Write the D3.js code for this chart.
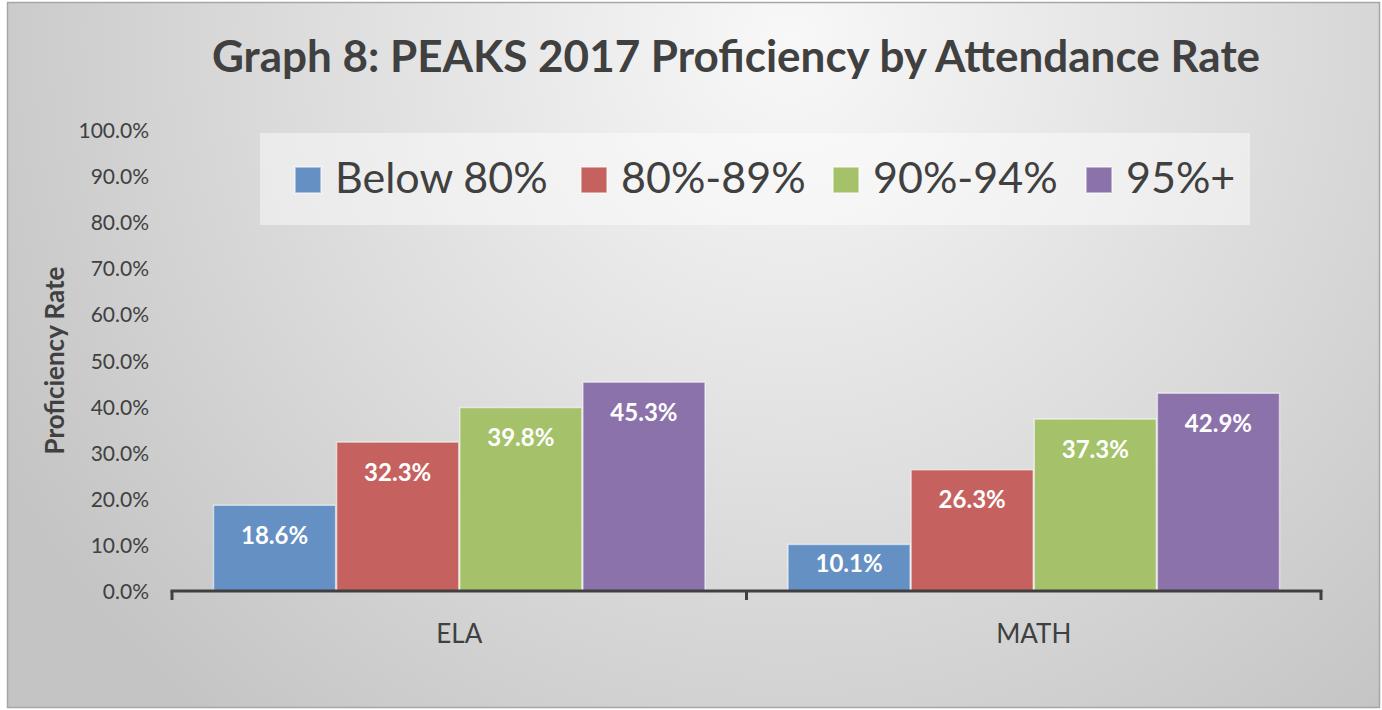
<!DOCTYPE html>
<html>
<head>
<meta charset="utf-8">
<script src="https://cdn.jsdelivr.net/npm/d3@7"></script>
<style>
  html, body { margin: 0; padding: 0; background: #ffffff; }
  svg { display: block; }
  text { font-family: Lato, "Open Sans", sans-serif; }
</style>
</head>
<body>
<svg id="chart" width="1382" height="710"></svg>
<script>
// ---- data ----
const title = "Graph 8: PEAKS 2017 Proficiency by Attendance Rate";
const categories = ["ELA", "MATH"];
const seriesNames = ["Below 80%", "80%-89%", "90%-94%", "95%+"];
const seriesColors = ["#6490C4", "#C5625F", "#A5C26B", "#8C72AB"];
const belowEighty = [18.6, 10.1];
const eightyToEightyNine = [32.3, 26.3];
const ninetyToNinetyFour = [39.8, 37.3];
const ninetyFivePlus = [45.3, 42.9];
const yTicks = [0, 10, 20, 30, 40, 50, 60, 70, 80, 90, 100];
const yAxisTitle = "Proficiency Rate";

const seriesValues = [belowEighty, eightyToEightyNine, ninetyToNinetyFour, ninetyFivePlus];

const svg = d3.select("#chart");

// background gradient
const defs = svg.append("defs");
const rg = defs.append("radialGradient").attr("id", "bg")
  .attr("gradientUnits", "userSpaceOnUse")
  .attr("cx", 790).attr("cy", 40).attr("r", 900);
rg.append("stop").attr("offset", 0).attr("stop-color", "#f8f8f8");
rg.append("stop").attr("offset", 0.55).attr("stop-color", "#dcdcdc");
rg.append("stop").attr("offset", 1).attr("stop-color", "#c4c4c4");

svg.append("rect").attr("x", 7.5).attr("y", 2.5).attr("width", 1372).attr("height", 705)
  .attr("fill", "url(#bg)").attr("stroke", "#a6a6a6").attr("stroke-width", 1.5);

// scales
const x0 = d3.scaleBand().domain(categories).range([172, 1321]).paddingInner(0).paddingOuter(0);
const x1 = d3.scaleBand().domain(seriesNames).range([41, x0.bandwidth() - 41]).padding(0);
const y = d3.scaleLinear().domain([0, 100]).range([591, 130]);

// y axis labels
const yAxis = d3.axisLeft(y).tickValues(yTicks).tickSize(0).tickPadding(0)
  .tickFormat(d => d.toFixed(1) + "%");
const gy = svg.append("g").attr("transform", "translate(149,0)").call(yAxis);
gy.select(".domain").remove();
gy.selectAll("text").attr("fill", "#404040").attr("font-size", 21).attr("font-family", "Lato, sans-serif")
  .attr("dy", "0.36em");

// y axis title
svg.append("text")
  .attr("transform", `translate(64,${(y(0) + y(100)) / 2}) rotate(-90)`)
  .attr("text-anchor", "middle")
  .attr("font-size", 26).attr("font-weight", "bold").attr("fill", "#404040")
  .text(yAxisTitle);

// bars
const groups = svg.append("g").selectAll("g").data(categories).join("g")
  .attr("transform", d => `translate(${x0(d)},0)`);

groups.each(function(cat, ci) {
  const g = d3.select(this);
  seriesNames.forEach((s, si) => {
    const v = seriesValues[si][ci];
    const h = y(0) - y(v);
    g.append("rect")
      .attr("x", x1(s) + 0.5).attr("y", y(v))
      .attr("width", x1.bandwidth() - 1).attr("height", h)
      .attr("fill", seriesColors[si])
      .attr("stroke", "rgba(255,255,255,0.55)").attr("stroke-width", 1.5);
    g.append("text")
      .attr("x", x1(s) + x1.bandwidth() / 2).attr("y", y(v) + Math.min(30, h * 0.4))
      .attr("dy", "0.36em").attr("text-anchor", "middle")
      .attr("font-size", 24).attr("font-weight", "bold").attr("fill", "#ffffff")
      .text(v.toFixed(1) + "%");
  });
});

// x axis
const gx = svg.append("g").attr("transform", `translate(0,${y(0)})`);
gx.append("line").attr("x1", x0.range()[0] - 1.5).attr("x2", x0.range()[1] + 1.5)
  .attr("y1", 0).attr("y2", 0).attr("stroke", "#404040").attr("stroke-width", 3);
const bounds = [x0.range()[0]].concat(categories.map(c => x0(c) + x0.bandwidth()));
gx.selectAll("line.tk").data(bounds).join("line").attr("class", "tk")
  .attr("x1", d => d).attr("x2", d => d).attr("y1", 0).attr("y2", 9)
  .attr("stroke", "#404040").attr("stroke-width", 3);
gx.selectAll("text.cat").data(categories).join("text").attr("class", "cat")
  .attr("x", d => x0(d) + x0.bandwidth() / 2).attr("y", 52)
  .attr("text-anchor", "middle").attr("font-size", 26).attr("fill", "#404040")
  .text(d => d);

// title
svg.append("text").attr("x", 736).attr("y", 72).attr("text-anchor", "middle")
  .attr("font-size", 44).attr("font-weight", "bold").attr("fill", "#404040")
  .text(title);

// legend
const lg = svg.append("g");
lg.append("rect").attr("x", 260).attr("y", 133).attr("width", 990).attr("height", 92)
  .attr("fill", "#ffffff").attr("fill-opacity", 0.45);
const legendX = [295, 581, 833, 1086];
seriesNames.forEach((s, i) => {
  lg.append("rect").attr("x", legendX[i]).attr("y", 167).attr("width", 26).attr("height", 26)
    .attr("fill", seriesColors[i]).attr("stroke", "rgba(255,255,255,0.6)").attr("stroke-width", 1.5);
  lg.append("text").attr("x", legendX[i] + 40).attr("y", 193)
    .attr("font-size", 43).attr("fill", "#404040").text(s);
});
</script>
</body>
</html>
